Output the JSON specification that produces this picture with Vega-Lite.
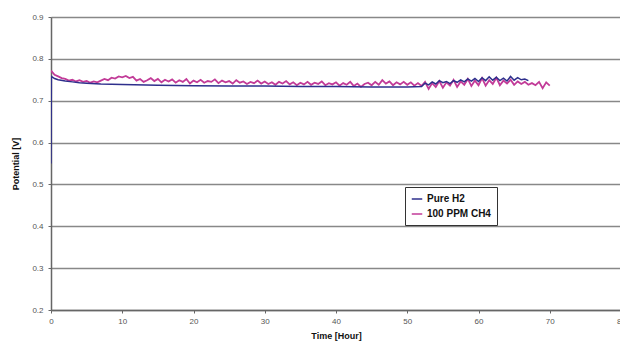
{
  "$schema": "https://vega.github.io/schema/vega-lite/v6.json",
  "width": 570,
  "height": 293,
  "autosize": "none",
  "padding": {"left": 51, "top": 17, "right": 0, "bottom": 37},
  "background": "white",
  "config": {
    "view": {"stroke": null},
    "font": "Liberation Sans"
  },
  "datasets": {
    "ch4": [
      [0,0.772],[0.5,0.762],[1,0.758],[1.5,0.754],[2,0.752],[2.5,0.748],[3,0.75],[3.5,0.746],[4,0.749],[4.5,0.745],
      [5,0.747],[5.5,0.743],[6,0.746],[6.5,0.744],[7,0.748],[7.5,0.752],[8,0.749],[8.5,0.755],[9,0.753],[9.5,0.758],
      [10,0.756],[10.5,0.759],[11,0.754],[11.5,0.757],[12,0.748],[12.5,0.752],[13,0.745],[13.5,0.749],[14,0.754],[14.5,0.747],
      [15,0.752],[15.5,0.744],[16,0.75],[16.5,0.746],[17,0.751],[17.5,0.743],[18,0.749],[18.5,0.745],[19,0.752],[19.5,0.741],
      [20,0.748],[20.5,0.744],[21,0.75],[21.5,0.743],[22,0.747],[22.5,0.745],[23,0.751],[23.5,0.742],[24,0.748],[24.5,0.744],
      [25,0.747],[25.5,0.741],[26,0.749],[26.5,0.743],[27,0.746],[27.5,0.74],[28,0.745],[28.5,0.742],[29,0.748],[29.5,0.741],
      [30,0.746],[30.5,0.74],[31,0.744],[31.5,0.738],[32,0.745],[32.5,0.741],[33,0.747],[33.5,0.739],[34,0.744],[34.5,0.737],
      [35,0.743],[35.5,0.739],[36,0.745],[36.5,0.738],[37,0.743],[37.5,0.74],[38,0.746],[38.5,0.737],[39,0.742],[39.5,0.739],
      [40,0.744],[40.5,0.736],[41,0.742],[41.5,0.738],[42,0.745],[42.5,0.735],[43,0.741],[43.5,0.733],[44,0.74],[44.5,0.743],
      [45,0.737],[45.5,0.745],[46,0.738],[46.5,0.749],[47,0.741],[47.5,0.746],[48,0.737],[48.5,0.744],[49,0.739],[49.5,0.745],
      [50,0.738],[50.5,0.744],[51,0.736],[51.5,0.742],[52,0.735],[52.5,0.745],[53,0.728],[53.5,0.742],[54,0.733],[54.5,0.747],
      [55,0.731],[55.5,0.744],[56,0.736],[56.5,0.75],[57,0.733],[57.5,0.746],[58,0.738],[58.5,0.752],[59,0.735],[59.5,0.748],
      [60,0.737],[60.5,0.754],[61,0.736],[61.5,0.749],[62,0.74],[62.5,0.755],[63,0.737],[63.5,0.748],[64,0.741],[64.5,0.75],
      [65,0.738],[65.5,0.746],[66,0.74],[66.5,0.745],[67,0.738],[67.5,0.742],[68,0.737],[68.5,0.745],[69,0.73],[69.5,0.744],
      [70,0.736]
    ],
    "h2": [
      [0,0.55],[0.05,0.758],[0.5,0.753],[1,0.75],[2,0.747],[3,0.745],[4,0.743],[5,0.742],[7,0.74],[10,0.739],
      [15,0.737],[20,0.736],[25,0.735],[30,0.735],[35,0.734],[40,0.734],[45,0.733],[50,0.733],[52,0.734],
      [52.5,0.742],[53,0.738],[53.5,0.745],[54,0.74],[54.5,0.748],[55,0.743],[55.5,0.746],[56,0.741],[56.5,0.748],
      [57,0.744],[57.5,0.75],[58,0.745],[58.5,0.752],[59,0.747],[59.5,0.753],[60,0.746],[60.5,0.755],[61,0.748],
      [61.5,0.757],[62,0.749],[62.5,0.756],[63,0.748],[63.5,0.754],[64,0.747],[64.5,0.758],[65,0.749],[65.5,0.755],
      [66,0.75],[66.5,0.752],[67,0.748]
    ]
  },
  "encoding": {
    "x": {
      "field": "t", "type": "quantitative",
      "scale": {"domain": [0, 80], "nice": false, "zero": false},
      "axis": {
        "title": "Time [Hour]", "values": [0,10,20,30,40,50,60,70,80],
        "grid": false, "domainColor": "#666", "domainWidth": 1.5,
        "tickColor": "#666", "tickSize": 3,
        "labelFont": "Liberation Sans", "labelFontSize": 8, "labelColor": "#555",
        "labelPadding": 4, "labelFlush": false,
        "titleFont": "Liberation Sans", "titleFontSize": 9, "titleFontWeight": "bold",
        "titleColor": "#111", "titlePadding": 6
      }
    },
    "y": {
      "field": "v", "type": "quantitative",
      "scale": {"domain": [0.2, 0.9], "nice": false, "zero": false},
      "axis": {
        "title": "Potential [V]", "values": [0.2,0.3,0.4,0.5,0.6,0.7,0.8,0.9],
        "format": ".1f", "grid": true, "gridColor": "#888", "gridWidth": 1.5,
        "domainColor": "#666", "domainWidth": 1.5,
        "tickColor": "#666", "tickSize": 3,
        "labelFont": "Liberation Sans", "labelFontSize": 8, "labelColor": "#555",
        "labelPadding": 5,
        "titleFont": "Liberation Sans", "titleFontSize": 9, "titleFontWeight": "bold",
        "titleColor": "#111", "titlePadding": 11
      }
    },
    "color": {
      "field": "series", "type": "nominal",
      "scale": {"domain": ["Pure H2", "100 PPM CH4"], "range": ["#2e2f8c", "#c23b98"]},
      "legend": {
        "title": null, "orient": "none", "legendX": 354, "legendY": 170,
        "symbolType": "stroke", "symbolSize": 110, "symbolStrokeWidth": 1.5,
        "labelFont": "Liberation Sans", "labelFontSize": 10, "labelFontWeight": "bold",
        "labelColor": "#111", "strokeColor": "#333", "padding": 6,
        "rowPadding": 4, "fillColor": "white", "labelLimit": 200
      }
    }
  },
  "layer": [
    {
      "data": {"name": "ch4"},
      "transform": [
        {"calculate": "datum[0]", "as": "t"},
        {"calculate": "datum[1]", "as": "v"},
        {"calculate": "'100 PPM CH4'", "as": "series"}
      ],
      "mark": {"type": "line", "strokeWidth": 1.8, "clip": true}
    },
    {
      "data": {"name": "h2"},
      "transform": [
        {"calculate": "datum[0]", "as": "t"},
        {"calculate": "datum[1]", "as": "v"},
        {"calculate": "'Pure H2'", "as": "series"}
      ],
      "mark": {"type": "line", "strokeWidth": 1.5, "clip": true}
    }
  ]
}
